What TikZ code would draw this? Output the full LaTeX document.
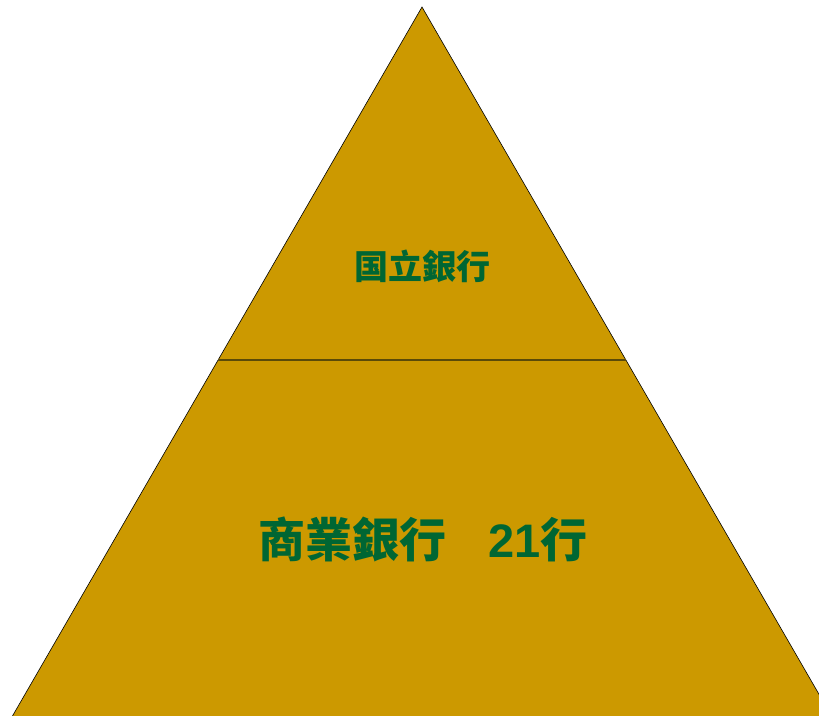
\documentclass[tikz,border=0pt]{standalone}
\usepackage{fontspec}
\newfontfamily\cjk{Noto Sans CJK TC}
\newfontfamily\lat{Liberation Sans}
\usepackage{tikz}
\definecolor{pyrfill}{HTML}{CC9900}
\definecolor{pyrtext}{HTML}{006633}
\definecolor{pyrline}{HTML}{5A4A08}

\begin{document}
\begin{tikzpicture}[x=1pt,y=-1pt]
\tikzstyle{every node}+=[inner sep=0pt]
\tikzstyle{label}=[text=pyrtext,font=\cjk\bfseries]
\clip (0,0) rectangle (819,715);
\coordinate (apex) at (422,7);
\coordinate (bl) at (9,722);
\coordinate (br) at (835,722);
\coordinate (ml) at (218,360);
\coordinate (mr) at (626,360);
\draw [black,fill=pyrfill,line width=0.6pt] (apex) -- (bl) -- (br) -- cycle;
\draw [pyrline,line width=2.2pt] (ml) -- (mr);
\node [label,font=\cjk\bfseries\fontsize{34}{34}\selectfont] (top) at (422,266) {国立銀行};
\node [label,font=\cjk\bfseries\fontsize{47}{47}\selectfont] (bottom) at (423,539) {商業銀行\hspace{0.9em}{\lat\bfseries 21}行};
\end{tikzpicture}
\end{document}
